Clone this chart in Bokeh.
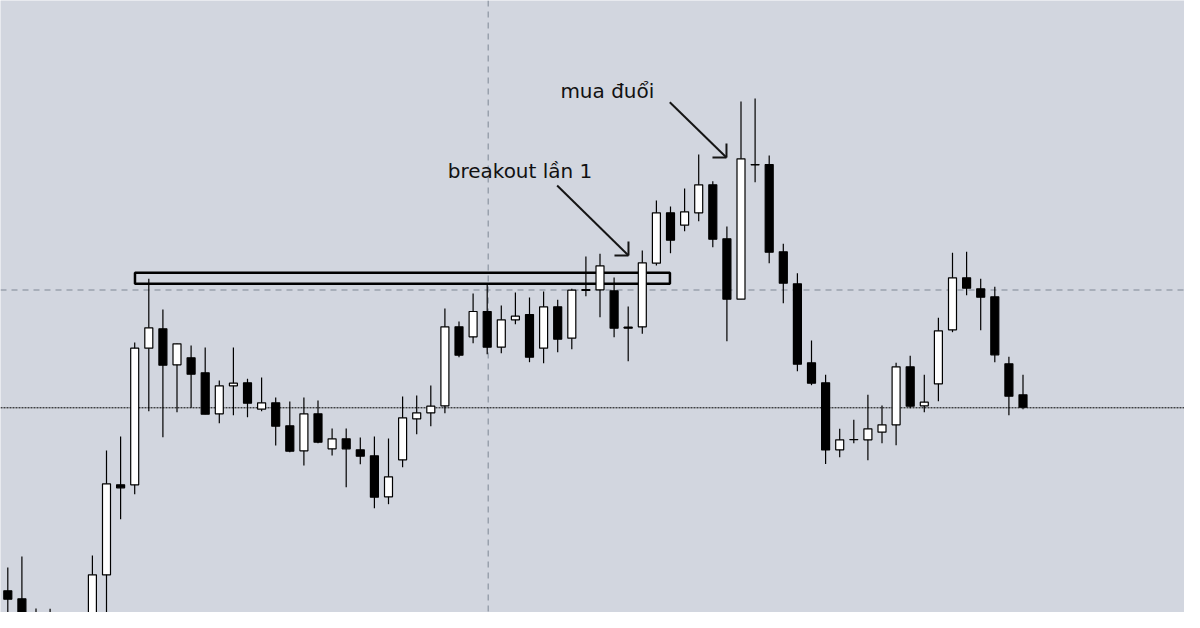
from bokeh.plotting import figure
from bokeh.models import ColumnDataSource, Range1d, Span
from bokeh.core.properties import value
from bokeh.embed import file_html
from bokeh.resources import INLINE

# candle data (arbitrary price units)
opens = [49.7, 41.7, 21.7, 7.0, -4.0, -12.0, -2.0, 65.7, 155.7, 155.7,
         292.3, 311.7, 275.7, 282.7, 267.7, 226.7, 254.7, 257.7, 231.3, 237.7,
         214.7, 189.7, 226.7, 191.7, 201.7, 190.7, 184.7, 143.7, 180.7, 221.7,
         227.7, 234.7, 313.7, 303.7, 329.0, 293.3, 320.7, 326.0, 292.3, 333.7,
         302.3, 351.0, 350.7, 349.7, 313.3, 313.7, 377.3, 427.7, 415.3, 427.7,
         455.7, 401.7, 341.3, 476.0, 476.0, 388.7, 356.7, 277.7, 257.7, 190.7,
         201.0, 200.7, 208.3, 215.7, 273.7, 234.7, 256.7, 310.7, 362.7, 351.7,
         343.7, 276.7, 245.7]
highs = [73.0, 84.0, 32.0, 31.7, 15.0, 8.0, 85.0, 190.0, 204.0, 298.0,
         361.7, 331.0, 297.0, 295.0, 293.0, 260.0, 293.0, 261.7, 263.0, 243.0,
         239.0, 243.0, 240.0, 212.0, 212.0, 203.0, 204.0, 202.0, 244.0, 245.0,
         255.0, 332.0, 319.0, 347.0, 356.7, 335.0, 348.0, 343.0, 349.0, 340.7,
         351.7, 384.0, 386.7, 363.0, 334.0, 390.0, 440.0, 434.0, 452.0, 486.0,
         459.3, 414.0, 539.0, 542.0, 485.0, 396.7, 367.3, 300.0, 265.7, 211.7,
         220.7, 245.7, 235.0, 277.7, 284.7, 265.7, 322.7, 387.7, 388.7, 361.7,
         353.7, 283.7, 265.7]
lows = [15.0, 20.0, -5.0, -15.0, -20.0, -18.0, -8.0, 18.3, 121.3, 146.3,
        229.3, 203.3, 228.3, 232.7, 226.3, 217.3, 225.3, 223.3, 229.3, 195.0,
        188.3, 175.0, 197.3, 185.0, 153.3, 176.3, 132.3, 136.3, 173.3, 206.3,
        214.3, 227.3, 283.3, 297.3, 286.3, 287.3, 316.3, 278.3, 277.3, 288.3,
        291.3, 344.3, 323.3, 303.3, 279.3, 306.7, 375.0, 387.3, 409.3, 419.3,
        393.3, 299.3, 341.3, 458.3, 377.3, 337.3, 269.3, 255.3, 176.5, 183.3,
        197.3, 180.3, 197.3, 195.3, 232.3, 228.3, 239.3, 308.3, 345.3, 310.3,
        278.3, 225.3, 231.3]
closes = [41.3, 21.0, 6.0, -6.0, -10.0, -2.0, 65.7, 156.7, 152.7, 292.3,
          312.7, 275.3, 296.7, 266.3, 226.3, 254.7, 257.3, 237.3, 237.7, 214.3,
          189.3, 226.7, 198.3, 201.7, 191.7, 184.3, 143.3, 163.7, 222.7, 227.7,
          234.3, 313.7, 285.3, 329.0, 293.3, 320.7, 324.3, 283.3, 333.7, 301.3,
          350.3, 350.0, 374.7, 312.3, 312.3, 377.7, 427.7, 400.3, 428.7, 455.7,
          401.3, 341.3, 481.7, 475.7, 388.3, 357.3, 276.3, 257.3, 190.5, 200.7,
          200.8, 211.7, 215.7, 273.7, 234.3, 238.3, 309.7, 362.7, 352.3, 343.3,
          285.7, 244.3, 233.3]

# drawn objects
zone_left, zone_right = 9.02, 46.96
zone_bottom, zone_top = 356.7, 367.7
support_level = 232.7      # dotted black line
resist_level = 350.5       # dashed grey line
cursor_bar = 34.07         # dashed vertical line

label_text = ["breakout lần 1", "mua đuổi"]
label_x = [31.2, 39.19]
label_y = [469.5, 549.5]

arrow_tail_x = [38.96, 46.95]
arrow_tail_y = [455.0, 538.3]
arrow_tip_x = [44.02, 50.97]
arrow_tip_y = [385.0, 483.0]

BG = "#d2d6df"
W, H = 1184, 612
BAR_PX = 14.1

x_range = Range1d(-7.3 / BAR_PX, -7.3 / BAR_PX + W / BAR_PX)
y_range = Range1d(640 - H, 640)

p = figure(width=W, height=H, x_range=x_range, y_range=y_range,
           tools="", toolbar_location=None, output_backend="svg",
           min_border=0, x_axis_location=None, y_axis_location=None,
           background_fill_color=BG, border_fill_color=BG,
           outline_line_color=None)
p.xgrid.visible = False
p.ygrid.visible = False

# chart grid / level lines
p.add_layout(Span(location=resist_level, dimension="width", line_color="#7f8794",
                  line_width=1, line_dash="6 5", level="underlay"))
p.add_layout(Span(location=cursor_bar, dimension="height", line_color="#7f8794",
                  line_width=1, line_dash="6 5", level="underlay"))
p.add_layout(Span(location=support_level, dimension="width", line_color="black",
                  line_width=1, line_dash="2 1", level="underlay"))

# resistance box
p.quad(left=[zone_left], right=[zone_right], top=[zone_top], bottom=[zone_bottom],
       fill_alpha=0, line_color="black", line_width=2.5)

idx = list(range(len(opens)))
src = ColumnDataSource(data=dict(
    x=idx,
    high=highs,
    low=lows,
    top=[max(o, c) for o, c in zip(opens, closes)],
    bottom=[min(o, c) for o, c in zip(opens, closes)],
    color=["white" if c > o else "black" for o, c in zip(opens, closes)],
))

p.segment(x0="x", y0="high", x1="x", y1="low", source=src,
          line_color="black", line_width=1.2)
p.vbar(x="x", top="top", bottom="bottom", width=8 / BAR_PX, source=src,
       fill_color="color", line_color="black", line_width=1.2)

# arrows with right-angle open heads
px_x = W / (x_range.end - x_range.start)
px_y = H / (y_range.end - y_range.start)
head = 14
p.segment(x0=arrow_tail_x, y0=arrow_tail_y, x1=arrow_tip_x, y1=arrow_tip_y,
          line_color="#151515", line_width=2)
p.segment(x0=arrow_tip_x, y0=arrow_tip_y,
          x1=[x - head / px_x for x in arrow_tip_x], y1=arrow_tip_y,
          line_color="#151515", line_width=2)
p.segment(x0=arrow_tip_x, y0=arrow_tip_y,
          x1=arrow_tip_x, y1=[y + head / px_y for y in arrow_tip_y],
          line_color="#151515", line_width=2)

p.text(x=label_x, y=label_y, text=label_text, text_font=value("DejaVu Sans"),
       text_font_size="20px", text_color="#111111",
       text_baseline="alphabetic", text_align="left")

open("out.html", "w").write(file_html(p, INLINE))
